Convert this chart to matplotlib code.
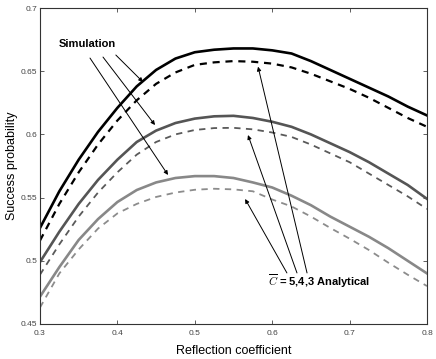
import matplotlib
matplotlib.use("Agg")
import matplotlib.pyplot as plt
import numpy as np

plt.rcParams['font.family'] = ['Liberation Sans', 'DejaVu Sans']

# ---- data ----
x = [0.300, 0.325, 0.350, 0.375, 0.400, 0.425, 0.450, 0.475, 0.500, 0.525, 0.550,
     0.575, 0.600, 0.625, 0.650, 0.675, 0.700, 0.725, 0.750, 0.775, 0.800]

sim_c5 = [0.526, 0.555, 0.580, 0.602, 0.621, 0.638, 0.651, 0.660, 0.665, 0.667, 0.668,
          0.668, 0.6665, 0.664, 0.658, 0.651, 0.644, 0.637, 0.630, 0.622, 0.615]
ana_c5 = [0.516, 0.545, 0.570, 0.592, 0.611, 0.627, 0.640, 0.649, 0.655, 0.657, 0.658,
          0.6575, 0.656, 0.653, 0.648, 0.642, 0.636, 0.629, 0.621, 0.613, 0.606]
sim_c4 = [0.499, 0.523, 0.545, 0.564, 0.580, 0.594, 0.603, 0.609, 0.6125, 0.6143, 0.6147,
          0.613, 0.610, 0.606, 0.600, 0.593, 0.586, 0.578, 0.569, 0.560, 0.549]
ana_c4 = [0.489, 0.513, 0.535, 0.554, 0.570, 0.584, 0.594, 0.600, 0.6035, 0.605, 0.6052,
          0.604, 0.6015, 0.598, 0.592, 0.585, 0.578, 0.569, 0.560, 0.551, 0.541]
sim_c3 = [0.4716, 0.495, 0.5165, 0.533, 0.5465, 0.556, 0.562, 0.5655, 0.567, 0.567, 0.5655,
          0.562, 0.558, 0.5515, 0.544, 0.535, 0.527, 0.519, 0.510, 0.500, 0.490]
ana_c3 = [0.463, 0.490, 0.509, 0.5255, 0.5375, 0.545, 0.5505, 0.554, 0.5562, 0.557, 0.5565,
          0.555, 0.5485, 0.543, 0.535, 0.526, 0.5175, 0.5085, 0.4985, 0.489, 0.480]

xticks = [0.3, 0.4, 0.5, 0.6, 0.7, 0.8]
xticklabels = ['0.3', '0.4', '0.5', '0.6', '0.7', '0.8']
yticks = [0.45, 0.5, 0.55, 0.6, 0.65, 0.7]
yticklabels = ['0.45', '0.5', '0.55', '0.6', '0.65', '0.7']

sim_label = 'Simulation'
ana_label = r'$\overline{C}$ = 5,4,3 Analytical'
sim_arrow_starts = [(0.3646, 0.6604), (0.3814, 0.6612), (0.398, 0.6628)]
sim_arrow_ends = [(0.4654, 0.5679), (0.4486, 0.6074), (0.433, 0.6415)]
ana_arrow_starts = [(0.619, 0.4904), (0.632, 0.4904), (0.645, 0.4904)]
ana_arrow_ends = [(0.565, 0.5489), (0.5687, 0.5995), (0.5817, 0.6536)]

# ---- plot ----
fig = plt.figure(figsize=(4.36, 3.59), dpi=100)
ax = fig.add_axes([0.0917, 0.0975, 0.8877, 0.8802])

ax.plot(x, sim_c5, color='#000000', lw=1.9, solid_joinstyle='round')
ax.plot(x, ana_c5, color='#000000', lw=1.6, ls=(0, (3.2, 2.6)))
ax.plot(x, sim_c4, color='#555555', lw=1.9, solid_joinstyle='round')
ax.plot(x, ana_c4, color='#5a5a5a', lw=1.3, ls=(0, (3.5, 3.0)))
ax.plot(x, sim_c3, color='#888888', lw=1.9, solid_joinstyle='round')
ax.plot(x, ana_c3, color='#8c8c8c', lw=1.3, ls=(0, (3.5, 3.0)))

aprops = dict(arrowstyle='-|>', mutation_scale=6, lw=0.7, color='k',
              shrinkA=0, shrinkB=0)
for s, e in zip(sim_arrow_starts, sim_arrow_ends):
    ax.annotate('', xy=e, xytext=s, arrowprops=aprops)
for s, e in zip(ana_arrow_starts, ana_arrow_ends):
    ax.annotate('', xy=e, xytext=s, arrowprops=aprops)

ax.text(0.3245, 0.6715, sim_label, fontsize=8, fontweight='bold',
        ha='left', va='center')
ax.text(0.5946, 0.484, ana_label, fontsize=8, fontweight='bold',
        ha='left', va='center', math_fontfamily='cm')

ax.set_xlim(0.3, 0.8)
ax.set_ylim(0.45, 0.7)
ax.set_xticks(xticks)
ax.set_xticklabels(xticklabels)
ax.set_yticks(yticks)
ax.set_yticklabels(yticklabels)
ax.tick_params(direction='in', length=3, width=0.6, top=True, right=True,
               labelsize=6, labelcolor='#444444', colors='#444444')
ax.tick_params(axis='x', pad=4)
ax.tick_params(axis='y', pad=2)
for sp in ax.spines.values():
    sp.set_color('#333333')
    sp.set_linewidth(0.8)

ax.set_xlabel('Reflection coefficient', fontsize=9, labelpad=6)
ax.set_ylabel('Success probability', fontsize=9, labelpad=2)

fig.savefig('out.png', dpi=100)
